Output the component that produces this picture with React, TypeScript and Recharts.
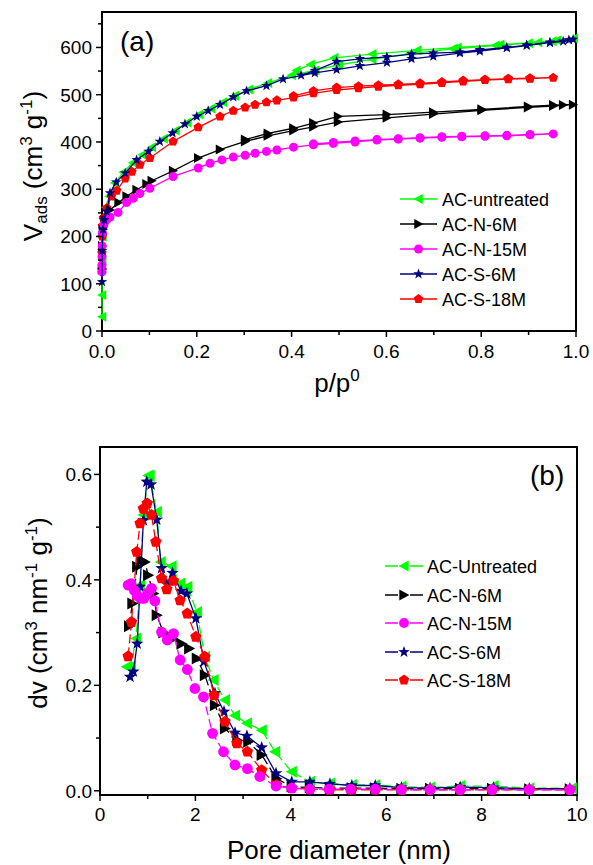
import React from "react";
import { ScatterChart, Scatter, XAxis, YAxis, ReferenceArea, Label } from "recharts";

const FONT = "Arial, 'Liberation Sans', Helvetica, sans-serif";

// (a) N2 isotherms, [p/p0, Vads]
const untreatedAds = [[0.0, 30], [0.0, 76], [0.0005, 150], [0.001, 200], [0.003, 238], [0.008, 262], [0.015, 285], [0.027, 313], [0.045, 336], [0.065, 356], [0.085, 373], [0.105, 389], [0.13, 407], [0.155, 424], [0.18, 441], [0.205, 458], [0.23, 471], [0.255, 484], [0.28, 498], [0.31, 511], [0.35, 525], [0.4, 541], [0.45, 552], [0.5, 563], [0.57, 575], [0.65, 587], [0.74, 597], [0.83, 604], [0.9, 609], [0.95, 613], [0.995, 619]];
const untreatedDes = [[0.96, 615], [0.92, 611], [0.84, 606], [0.75, 600], [0.665, 594], [0.57, 586], [0.49, 578], [0.44, 564], [0.41, 551]];
const n6Ads = [[0.0, 130], [0.0005, 180], [0.002, 215], [0.006, 235], [0.017, 256], [0.035, 272], [0.052, 285], [0.073, 299], [0.094, 311], [0.105, 318], [0.15, 339], [0.203, 366], [0.249, 384], [0.302, 401], [0.35, 413], [0.404, 424], [0.446, 432], [0.498, 442], [0.601, 451], [0.699, 459], [0.801, 467], [0.899, 473], [0.952, 476], [0.973, 478], [0.994, 479]];
const n6Des = [[0.952, 478], [0.899, 475], [0.801, 469], [0.699, 463], [0.601, 458], [0.498, 454], [0.446, 440], [0.404, 429], [0.35, 418], [0.302, 405]];
const n15Ads = [[0.0, 125], [0.0, 140], [0.0, 157], [0.0003, 180], [0.001, 207], [0.004, 225], [0.01, 235], [0.017, 241], [0.034, 251], [0.052, 272], [0.066, 281], [0.08, 291], [0.101, 302], [0.15, 327], [0.203, 345], [0.228, 355], [0.253, 362], [0.277, 368], [0.302, 372], [0.323, 376], [0.347, 380], [0.369, 383], [0.404, 389], [0.446, 394], [0.488, 397], [0.534, 400], [0.58, 404], [0.625, 406], [0.671, 408], [0.717, 410], [0.759, 411], [0.808, 412], [0.854, 413], [0.903, 415], [0.952, 417]];
const n15Des = [[0.903, 416], [0.854, 414], [0.808, 413], [0.759, 412], [0.717, 411], [0.671, 409], [0.625, 407], [0.58, 405], [0.534, 402], [0.488, 399], [0.446, 396]];
const s6Ads = [[0.0, 104], [0.0005, 170], [0.002, 215], [0.005, 235], [0.01, 253], [0.017, 292], [0.03, 315], [0.049, 334], [0.073, 362], [0.098, 380], [0.122, 401], [0.149, 419], [0.175, 438], [0.2, 454], [0.224, 466], [0.249, 479], [0.277, 495], [0.305, 508], [0.347, 519], [0.382, 533], [0.449, 546], [0.495, 553], [0.544, 561], [0.601, 568], [0.653, 576], [0.699, 581], [0.755, 588], [0.797, 592], [0.854, 599], [0.896, 604], [0.945, 610], [0.973, 613], [0.994, 617]];
const s6Des = [[0.985, 616], [0.945, 611], [0.896, 605], [0.854, 600], [0.797, 595], [0.755, 590], [0.699, 588], [0.653, 586], [0.601, 580], [0.544, 576], [0.495, 570], [0.449, 551], [0.42, 541]];
const s18Ads = [[0.0, 130], [0.0, 165], [0.0005, 200], [0.001, 222], [0.003, 239], [0.01, 260], [0.02, 285], [0.031, 297], [0.049, 323], [0.063, 337], [0.08, 352], [0.101, 366], [0.15, 401], [0.203, 431], [0.249, 454], [0.277, 466], [0.302, 473], [0.323, 479], [0.347, 484], [0.369, 488], [0.404, 494], [0.446, 503], [0.495, 510], [0.541, 514], [0.583, 517], [0.625, 520], [0.671, 522], [0.717, 525], [0.762, 528], [0.808, 531], [0.857, 533], [0.903, 534], [0.952, 536]];
const s18Des = [[0.903, 535], [0.857, 534], [0.808, 532], [0.762, 530], [0.717, 527], [0.671, 524], [0.625, 522], [0.583, 520], [0.541, 518], [0.495, 515], [0.446, 508], [0.404, 497]];

// (b) pore size distribution, [pore diameter nm, dv]
const untreatedPsd = [[0.56, 0.235], [0.65, 0.236], [0.755, 0.289], [0.84, 0.39], [0.91, 0.523], [1.01, 0.598], [1.04, 0.597], [1.19, 0.529], [1.27, 0.434], [1.5, 0.426], [1.68, 0.393], [1.83, 0.387], [2.03, 0.339], [2.2, 0.254], [2.38, 0.21], [2.62, 0.172], [2.83, 0.143], [3.08, 0.128], [3.39, 0.115], [3.67, 0.074], [4.02, 0.036], [4.4, 0.017], [4.82, 0.014], [5.28, 0.011], [5.77, 0.011], [6.32, 0.008], [6.92, 0.006], [7.55, 0.009], [8.25, 0.009], [9.0, 0.005], [9.89, 0.005]];
const n6Psd = [[0.61, 0.312], [0.68, 0.355], [0.78, 0.425], [0.87, 0.437], [0.94, 0.434], [1.01, 0.409], [1.12, 0.374], [1.19, 0.333], [1.33, 0.3], [1.52, 0.288], [1.71, 0.279], [1.87, 0.27], [2.03, 0.251], [2.2, 0.219], [2.41, 0.162], [2.62, 0.118], [2.88, 0.096], [3.11, 0.093], [3.39, 0.068], [3.7, 0.023], [4.02, 0.008], [4.4, 0.006], [4.82, 0.005], [5.28, 0.005], [5.77, 0.005], [6.32, 0.004], [6.92, 0.004], [7.55, 0.004], [8.22, 0.004], [9.0, 0.003], [9.85, 0.003]];
const n15Psd = [[0.59, 0.39], [0.65, 0.393], [0.72, 0.38], [0.78, 0.37], [0.85, 0.365], [0.92, 0.365], [1.0, 0.375], [1.08, 0.384], [1.15, 0.36], [1.29, 0.301], [1.41, 0.286], [1.54, 0.298], [1.68, 0.248], [1.83, 0.23], [1.99, 0.194], [2.17, 0.178], [2.36, 0.109], [2.59, 0.074], [2.83, 0.049], [3.09, 0.042], [3.35, 0.027], [3.69, 0.009], [4.02, 0.005], [4.4, 0.003], [4.8, 0.003], [5.25, 0.003], [5.77, 0.003], [6.32, 0.002], [6.92, 0.002], [7.55, 0.002], [8.22, 0.002], [9.0, 0.002], [9.85, 0.002]];
const s6Psd = [[0.63, 0.216], [0.7, 0.226], [0.78, 0.279], [0.84, 0.387], [0.91, 0.513], [0.98, 0.586], [1.07, 0.581], [1.19, 0.514], [1.29, 0.422], [1.4, 0.392], [1.52, 0.413], [1.7, 0.379], [1.82, 0.374], [2.01, 0.327], [2.18, 0.245], [2.41, 0.185], [2.6, 0.15], [2.83, 0.11], [3.08, 0.104], [3.39, 0.082], [3.69, 0.033], [4.02, 0.017], [4.4, 0.017], [4.82, 0.013], [5.28, 0.01], [5.77, 0.01], [6.32, 0.006], [6.92, 0.005], [7.55, 0.007], [8.25, 0.006], [9.0, 0.004], [9.85, 0.004]];
const s18Psd = [[0.59, 0.255], [0.66, 0.32], [0.77, 0.453], [0.84, 0.507], [0.91, 0.535], [0.99, 0.545], [1.08, 0.523], [1.17, 0.472], [1.29, 0.403], [1.4, 0.382], [1.54, 0.398], [1.68, 0.361], [1.83, 0.336], [2.01, 0.292], [2.2, 0.254], [2.39, 0.181], [2.62, 0.131], [2.87, 0.09], [3.09, 0.074], [3.39, 0.039], [3.7, 0.011], [4.02, 0.005], [4.4, 0.003], [4.82, 0.002], [5.28, 0.002], [5.77, 0.002], [6.32, 0.002], [6.92, 0.002], [7.55, 0.002], [8.22, 0.002], [9.0, 0.002], [9.85, 0.002]];

const xTicksA = [0, 0.1, 0.2, 0.3, 0.4, 0.5, 0.6, 0.7, 0.8, 0.9, 1.0];
const xMajorA = [0, 0.2, 0.4, 0.6, 0.8, 1.0];
const yTicksA = [0, 50, 100, 150, 200, 250, 300, 350, 400, 450, 500, 550, 600, 650];
const yMajorA = [0, 100, 200, 300, 400, 500, 600];
const xTicksB = [0, 1, 2, 3, 4, 5, 6, 7, 8, 9, 10];
const xMajorB = [0, 2, 4, 6, 8, 10];
const yTicksB = [0, 0.1, 0.2, 0.3, 0.4, 0.5, 0.6];
const yMajorB = [0, 0.2, 0.4, 0.6];

const toPts = (arr: number[][]) => arr.map(([x, y]) => ({ x, y }));

type Shape = "left" | "right" | "circle" | "star" | "pentagon";

const seriesA = [
  { name: "AC-untreated", color: "#00FF00", shape: "left" as Shape, data: [...untreatedAds, ...untreatedDes] },
  { name: "AC-S-18M", color: "#FF0000", shape: "pentagon" as Shape, data: [...s18Ads, ...s18Des] },
  { name: "AC-N-6M", color: "#000000", shape: "right" as Shape, data: [...n6Ads, ...n6Des] },
  { name: "AC-N-15M", color: "#FF00FF", shape: "circle" as Shape, data: [...n15Ads, ...n15Des] },
  { name: "AC-S-6M", color: "#000080", shape: "star" as Shape, data: [...s6Ads, ...s6Des] },
];

const seriesB = [
  { name: "AC-Untreated", color: "#00FF00", shape: "left" as Shape, dash: "9 4", data: untreatedPsd },
  { name: "AC-N-6M", color: "#000000", shape: "right" as Shape, dash: "9 4", data: n6Psd },
  { name: "AC-S-6M", color: "#000080", shape: "star" as Shape, dash: "", data: s6Psd },
  { name: "AC-S-18M", color: "#FF0000", shape: "pentagon" as Shape, dash: "9 4", data: s18Psd },
  { name: "AC-N-15M", color: "#FF00FF", shape: "circle" as Shape, dash: "9 4", data: n15Psd },
];

const legendA = ["AC-untreated", "AC-N-6M", "AC-N-15M", "AC-S-6M", "AC-S-18M"];
const legendB = ["AC-Untreated", "AC-N-6M", "AC-N-15M", "AC-S-6M", "AC-S-18M"];

function polyPoints(cx: number, cy: number, n: number, r: number, inner?: number) {
  const pts: string[] = [];
  const count = inner ? n * 2 : n;
  for (let i = 0; i < count; i++) {
    const a = (-90 + (i * 360) / count) * (Math.PI / 180);
    const rr = inner && i % 2 === 1 ? inner : r;
    pts.push(`${cx + rr * Math.cos(a)},${cy + rr * Math.sin(a)}`);
  }
  return pts.join(" ");
}

function Marker({ cx, cy, shape, color, r }: { cx: number; cy: number; shape: Shape; color: string; r: number }) {
  if (cx == null || cy == null || isNaN(cx) || isNaN(cy)) return null;
  if (shape === "left")
    return <polygon points={`${cx - r},${cy} ${cx + r * 0.85},${cy - r} ${cx + r * 0.85},${cy + r}`} fill={color} />;
  if (shape === "right")
    return <polygon points={`${cx + r},${cy} ${cx - r * 0.85},${cy - r} ${cx - r * 0.85},${cy + r}`} fill={color} />;
  if (shape === "circle") return <circle cx={cx} cy={cy} r={r * 0.9} fill={color} />;
  if (shape === "star") return <polygon points={polyPoints(cx, cy, 5, r * 1.1, r * 0.45)} fill={color} />;
  return <polygon points={polyPoints(cx, cy, 5, r)} fill={color} />;
}

const isMajor = (majors: number[], v: number) => majors.some((m) => Math.abs(m - v) < 1e-9);

const makeXTick = (majors: number[], fmt: (v: number) => string, dy: number) => (props: any) => {
  const { x, y, payload } = props;
  const major = isMajor(majors, payload.value);
  return (
    <g>
      <line x1={x} x2={x} y1={y} y2={y + (major ? 6 : 4)} stroke="#000" strokeWidth={1.5} />
      {major && (
        <text x={x} y={y + dy} textAnchor="middle" fontSize={19} fontFamily={FONT} fill="#000">
          {fmt(payload.value)}
        </text>
      )}
    </g>
  );
};

const makeYTick = (majors: number[], fmt: (v: number) => string, gap: number) => (props: any) => {
  const { x, y, payload } = props;
  const major = isMajor(majors, payload.value);
  return (
    <g>
      <line x1={x} x2={x - (major ? 6 : 4)} y1={y} y2={y} stroke="#000" strokeWidth={1.5} />
      {major && (
        <text x={x - gap} y={y + 7} textAnchor="end" fontSize={19} fontFamily={FONT} fill="#000">
          {fmt(payload.value)}
        </text>
      )}
    </g>
  );
};

const axisLine = { stroke: "#000", strokeWidth: 2 };

function LegendRows({ names, all, x0, x1, tx, ys, dashed, r }: any) {
  return (
    <g>
      {names.map((n: string, i: number) => {
        const s = all.find((q: any) => q.name === n);
        const y = ys[i];
        const mid = (x0 + x1) / 2;
        return (
          <g key={n}>
            {dashed ? (
              <>
                <line x1={x0} x2={mid - 6} y1={y} y2={y} stroke={s.color} strokeWidth={1.5} />
                <line x1={mid + 6} x2={x1} y1={y} y2={y} stroke={s.color} strokeWidth={1.5} />
              </>
            ) : (
              <line x1={x0} x2={x1} y1={y} y2={y} stroke={s.color} strokeWidth={1.5} />
            )}
            <Marker cx={mid} cy={y} shape={s.shape} color={s.color} r={r} />
            <text x={tx} y={y + 6.5} fontSize={18} fontFamily={FONT} fill="#000">
              {n}
            </text>
          </g>
        );
      })}
    </g>
  );
}

export default function App() {
  return (
    <div style={{ position: "absolute", left: 0, top: 0, width: 593, height: 865, background: "#fff" }}>
      <div style={{ position: "absolute", left: 0, top: 0 }}>
        <ScatterChart width={593} height={420} margin={{ top: 12, right: 17, bottom: 0, left: 0 }}>
          <XAxis
            type="number"
            dataKey="x"
            domain={[0, 1]}
            ticks={xTicksA}
            interval={0}
            height={89}
            tickSize={0}
            tickMargin={0}
            tickLine={false}
            axisLine={axisLine}
            tick={makeXTick(xMajorA, (v) => v.toFixed(1), 27)}
          >
            <Label
              content={() => (
                <text x={337} y={392} textAnchor="middle" fontSize={26} fontFamily={FONT} fill="#000">
                  p/p<tspan fontSize={17} dy={-11}>0</tspan>
                </text>
              )}
            />
          </XAxis>
          <YAxis
            type="number"
            dataKey="y"
            domain={[0, 675]}
            ticks={yTicksA}
            interval={0}
            width={102}
            tickSize={0}
            tickMargin={0}
            tickLine={false}
            axisLine={axisLine}
            tick={makeYTick(yMajorA, (v) => String(v), 10)}
          >
            <Label
              content={() => (
                <text transform="translate(42,166) rotate(-90)" textAnchor="middle" fontSize={26} fontFamily={FONT} fill="#000">
                  V<tspan fontSize={17} dy={5}>ads</tspan>
                  <tspan dy={-5}> (cm</tspan>
                  <tspan fontSize={17} dy={-10}>3</tspan>
                  <tspan dy={10}> g</tspan>
                  <tspan fontSize={17} dy={-10}>-1</tspan>
                  <tspan dy={10}>)</tspan>
                </text>
              )}
            />
          </YAxis>
          <ReferenceArea x1={0} x2={1} y1={0} y2={675} fill="none" stroke="#000" strokeWidth={2} />
          {seriesA.map((s) => (
            <Scatter
              key={s.name}
              name={s.name}
              data={toPts(s.data)}
              fill={s.color}
              line={{ stroke: s.color, strokeWidth: 1.3 }}
              lineType="joint"
              isAnimationActive={false}
              shape={(p: any) => <Marker cx={p.cx} cy={p.cy} shape={s.shape} color={s.color} r={5} />}
            />
          ))}
        </ScatterChart>
      </div>
      <div style={{ position: "absolute", left: 0, top: 430 }}>
        <ScatterChart width={593} height={435} margin={{ top: 17, right: 16, bottom: 0, left: 0 }}>
          <XAxis
            type="number"
            dataKey="x"
            domain={[0, 10]}
            ticks={xTicksB}
            interval={0}
            height={70}
            tickSize={0}
            tickMargin={0}
            tickLine={false}
            axisLine={axisLine}
            tick={makeXTick(xMajorB, (v) => String(v), 26)}
          >
            <Label
              content={() => (
                <text x={339} y={429} textAnchor="middle" fontSize={26} fontFamily={FONT} fill="#000">
                  Pore diameter (nm)
                </text>
              )}
            />
          </XAxis>
          <YAxis
            type="number"
            dataKey="y"
            domain={[-0.008, 0.652]}
            ticks={yTicksB}
            interval={0}
            width={100}
            tickSize={0}
            tickMargin={0}
            tickLine={false}
            axisLine={axisLine}
            tick={makeYTick(yMajorB, (v) => v.toFixed(1), 8)}
          >
            <Label
              content={() => (
                <text transform="translate(47,183) rotate(-90)" textAnchor="middle" fontSize={26} fontFamily={FONT} fill="#000">
                  dv (cm<tspan fontSize={17} dy={-10}>3</tspan>
                  <tspan dy={10}> nm</tspan>
                  <tspan fontSize={17} dy={-10}>-1</tspan>
                  <tspan dy={10}> g</tspan>
                  <tspan fontSize={17} dy={-10}>-1</tspan>
                  <tspan dy={10}>)</tspan>
                </text>
              )}
            />
          </YAxis>
          <ReferenceArea x1={0} x2={10} y1={-0.008} y2={0.652} fill="none" stroke="#000" strokeWidth={2} />
          {seriesB.map((s) => (
            <Scatter
              key={s.name}
              name={s.name}
              data={toPts(s.data)}
              fill={s.color}
              line={{ stroke: s.color, strokeWidth: 1.3, strokeDasharray: s.dash || undefined }}
              lineType="joint"
              isAnimationActive={false}
              shape={(p: any) => <Marker cx={p.cx} cy={p.cy} shape={s.shape} color={s.color} r={6} />}
            />
          ))}
        </ScatterChart>
      </div>
      <svg width={593} height={865} style={{ position: "absolute", left: 0, top: 0, pointerEvents: "none" }}>
        <text x={120} y={51} fontSize={28} fontFamily={FONT} fill="#000">(a)</text>
        <text x={530} y={485} fontSize={28} fontFamily={FONT} fill="#000">(b)</text>
        <LegendRows names={legendA} all={seriesA} x0={400} x1={437} tx={442} ys={[199, 224, 249, 274, 299]} dashed={false} r={5} />
        <LegendRows names={legendB} all={seriesB} x0={385} x1={423} tx={427} ys={[566, 595, 623, 652, 680]} dashed={true} r={5.5} />
      </svg>
    </div>
  );
}
